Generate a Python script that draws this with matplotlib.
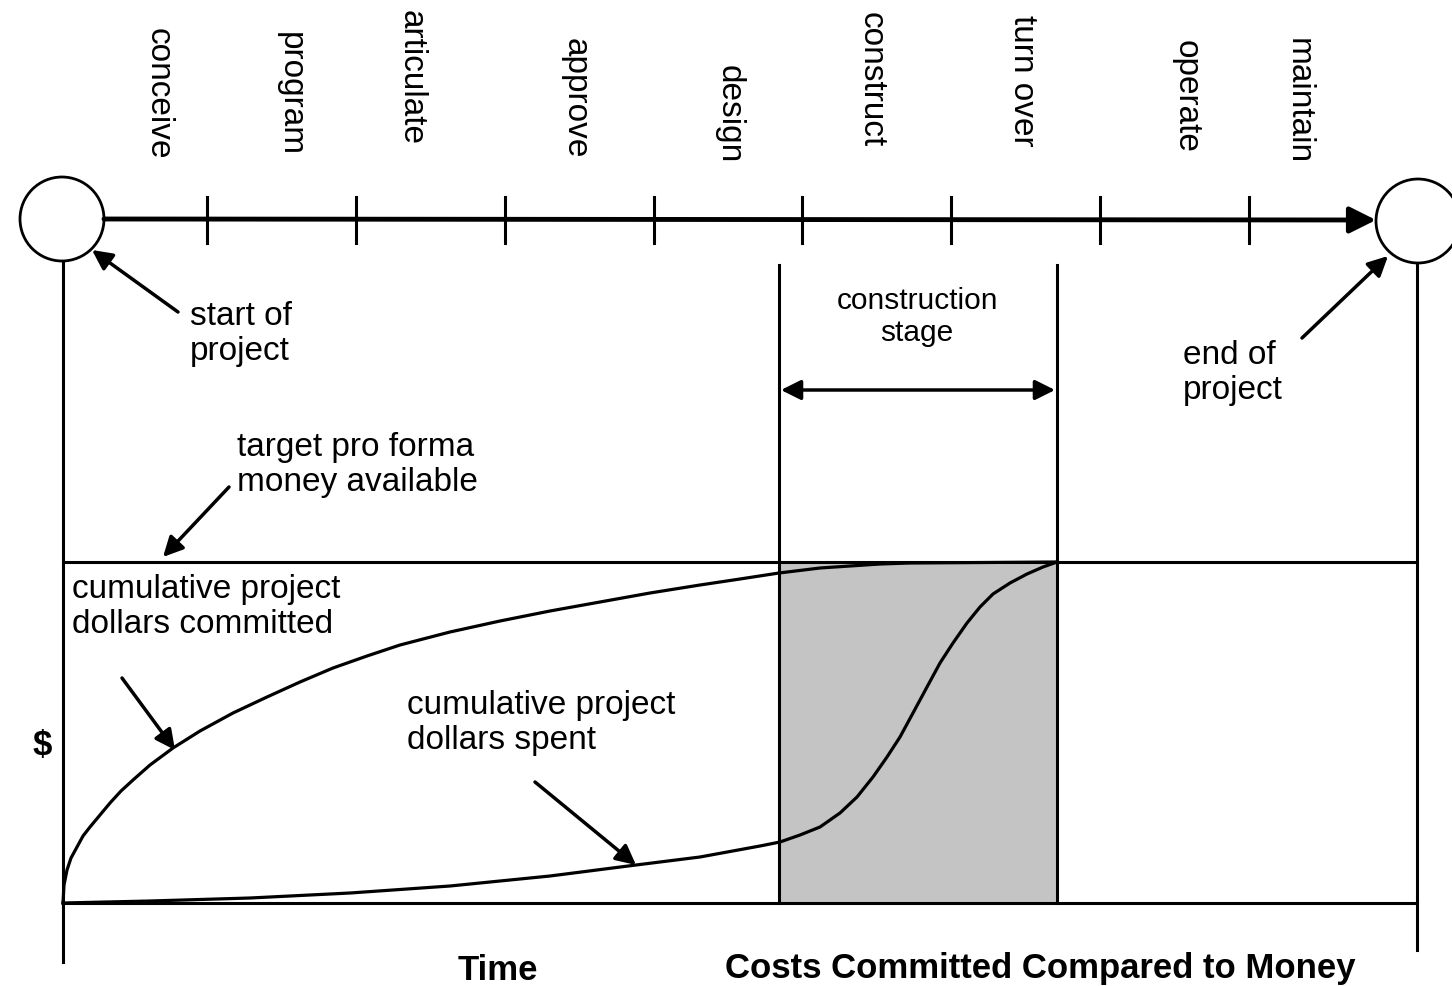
import numpy as np
import matplotlib.pyplot as plt
from matplotlib.patches import Circle, Rectangle

plt.rcParams['font.family'] = ['Liberation Sans', 'DejaVu Sans']

# phases along the top time line (x in picture units, label top edge)
phases = ['conceive', 'program', 'articulate', 'approve', 'design',
          'construct', 'turn over', 'operate', 'maintain']
phase_x = [158, 290, 411, 575, 729, 871, 1023, 1186, 1298]
phase_top = [28, 32, 10, 38, 65, 12, 15, 40, 38]
tick_x = [207, 356, 505, 654, 802, 951, 1100, 1249]

# project span and money levels
t_start, t_end = 63, 1417
cs_start, cs_end = 779, 1057
money_zero, money_target = 903, 562

# cumulative dollars committed
committed_x = [63, 64, 67, 71, 77, 83, 90, 100, 110, 121, 133, 150, 173, 200,
               233, 267, 300, 333, 367, 400, 450, 500, 550, 600, 650, 700, 740,
               779, 820, 850, 880, 910, 1057]
committed_y = [903, 885, 870, 858, 847, 836, 827, 815, 803, 791, 780, 765, 748,
               731, 713, 697, 682, 668, 656, 645, 632, 621, 611, 602, 593, 585,
               579, 573, 568, 566, 564, 563, 562]

# cumulative dollars spent
spent_x = [63, 150, 250, 350, 450, 550, 636, 700, 760, 780, 800, 820, 840, 857,
           873, 887, 900, 913, 927, 940, 953, 967, 980, 993, 1010, 1027, 1043,
           1057]
spent_y = [903, 901, 898, 893, 886, 876, 865, 857, 846, 842, 835, 827, 813,
           797, 777, 757, 737, 713, 687, 663, 643, 623, 607, 594, 583, 574, 567,
           562]

fig = plt.figure(figsize=(14.52, 9.86), dpi=100)
ax = fig.add_axes([0, 0, 1, 1])
ax.set_xlim(0, 1452)
ax.set_ylim(986, 0)
ax.axis('off')

k = 'black'
fs = 24
ls = 1.15

# time line
ax.annotate('', xy=(1376, 220), xytext=(104, 219),
            arrowprops=dict(arrowstyle='-|>', color=k, lw=3.5, mutation_scale=40,
                            shrinkA=0, shrinkB=0))
for x in tick_x:
    ax.plot([x, x], [197, 243], color=k, lw=2.2)
ax.add_patch(Circle((62, 219), 42, fill=False, lw=2, ec=k))
ax.add_patch(Circle((1418, 221), 42, fill=False, lw=2, ec=k))

for name, x, top in zip(phases, phase_x, phase_top):
    ax.text(x, top, name, rotation=270, ha='center', va='top', fontsize=fs)

# frame of the cost chart
ax.add_patch(Rectangle((cs_start, money_target), cs_end - cs_start,
                       money_zero - money_target, fc='#c4c4c4', ec='none', zorder=0))
ax.plot([t_start, t_start], [262, 962], color=k, lw=2.2)
ax.plot([t_end, t_end], [264, 950], color=k, lw=2.2)
ax.plot([cs_start, cs_start], [265, money_zero], color=k, lw=2.2)
ax.plot([cs_end, cs_end], [265, money_zero], color=k, lw=2.2)
ax.plot([t_start, t_end], [money_target, money_target], color=k, lw=2.2)
ax.plot([t_start, t_end], [money_zero, money_zero], color=k, lw=2.2)

ax.plot(committed_x, committed_y, color=k, lw=2.3, solid_joinstyle='round')
ax.plot(spent_x, spent_y, color=k, lw=2.3, solid_joinstyle='round')

# labels and pointers
arw = dict(arrowstyle='-|>', color=k, lw=2.5, mutation_scale=30, shrinkA=0, shrinkB=0)
ax.text(190, 301, 'start of\nproject', fontsize=fs, va='top', linespacing=ls)
ax.annotate('', xy=(92, 250), xytext=(178, 312), arrowprops=arw)
ax.text(1183, 340, 'end of\nproject', fontsize=fs, va='top', linespacing=ls)
ax.annotate('', xy=(1388, 256), xytext=(1302, 338), arrowprops=arw)
ax.text(237, 432, 'target pro forma\nmoney available', fontsize=fs, va='top',
        linespacing=ls)
ax.annotate('', xy=(163, 557), xytext=(229, 487), arrowprops=arw)
ax.text(72, 574, 'cumulative project\ndollars committed', fontsize=fs, va='top',
        linespacing=ls)
ax.annotate('', xy=(175, 750), xytext=(122, 678), arrowprops=arw)
ax.text(407, 690, 'cumulative project\ndollars spent', fontsize=fs, va='top',
        linespacing=ls)
ax.annotate('', xy=(636, 865), xytext=(535, 782), arrowprops=arw)

ax.text(917, 287, 'construction\nstage', fontsize=21.5, ha='center', va='top',
        linespacing=1.2)
ax.annotate('', xy=(cs_start + 2, 390), xytext=(cs_end - 2, 390),
            arrowprops=dict(arrowstyle='<|-|>', color=k, lw=2.5, mutation_scale=30,
                            shrinkA=0, shrinkB=0))

ax.text(42, 746, '$', fontsize=25, fontweight='bold', ha='center', va='center')
ax.text(498, 970, 'Time', fontsize=25, fontweight='bold', ha='center', va='center')
ax.text(725, 985, 'Costs Committed Compared to Money', fontsize=25,
        fontweight='bold', ha='left', va='bottom')

fig.savefig('out.png', dpi=100)
